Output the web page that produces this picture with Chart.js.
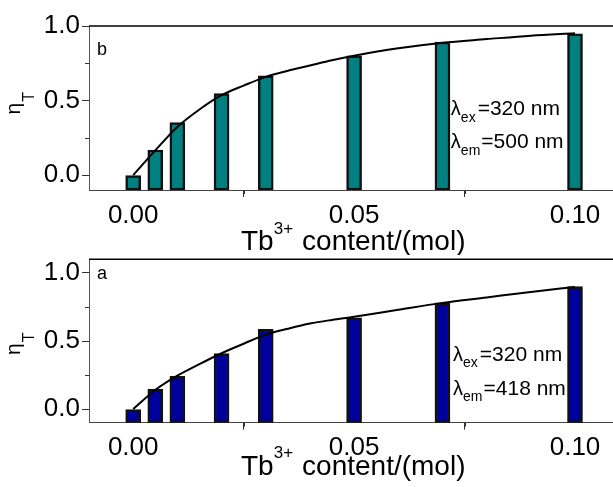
<!DOCTYPE html>
<html>
<head>
<meta charset="utf-8">
<script src="https://cdn.jsdelivr.net/npm/chart.js@4.4.0/dist/chart.umd.min.js"></script>
<style>
  html, body { margin: 0; padding: 0; background: #fff; }
  #wrap { position: relative; width: 613px; height: 487px; }
  canvas { position: absolute; left: 0; }
</style>
</head>
<body>
<div id="wrap">
  <canvas id="chartB" width="613" height="255" style="top:0"></canvas>
  <canvas id="chartA" width="613" height="232" style="top:255px"></canvas>
</div>
<script>
// Contenido de Tb3+ (mol)
const contenido = [0.00, 0.005, 0.01, 0.02, 0.03, 0.05, 0.07, 0.10];
// Panel b (λem = 500 nm)
const etaB = [0.00, 0.168, 0.352, 0.547, 0.666, 0.800, 0.892, 0.948];
// Panel a (λem = 418 nm)
const etaA = [0.00, 0.146, 0.241, 0.407, 0.585, 0.671, 0.781, 0.900];

// Curvas de ajuste
const curvaX = [0.00, 0.005, 0.01, 0.015, 0.02, 0.025, 0.03, 0.035, 0.04, 0.045, 0.05, 0.06, 0.07, 0.08, 0.09, 0.10];
const curvaB = [0.00, 0.166, 0.323, 0.44, 0.536, 0.60, 0.659, 0.70, 0.735, 0.77, 0.80, 0.85, 0.888, 0.912, 0.935, 0.951];
const curvaA = [0.00, 0.14, 0.245, 0.33, 0.41, 0.48, 0.547, 0.59, 0.628, 0.655, 0.678, 0.73, 0.78, 0.82, 0.86, 0.897];

// Ticks
const xTicks = [0.00, 0.05, 0.10];
const xMinor = [0.025, 0.075];
const yTicks = [0.0, 0.5, 1.0];
const yMinor = [0.25, 0.75];

const FUENTE = "'Liberation Sans', Arial, sans-serif";

// Dibuja texto con partes normales / subíndice / superíndice
function textoCompuesto(ctx, partes, x, y) {
    let cx = x;
    partes.forEach(p => {
        ctx.font = p.size + "px " + FUENTE;
        ctx.fillText(p.t, cx, y + (p.dy || 0));
        cx += ctx.measureText(p.t).width + (p.gap || 0);
    });
}

function crearPanel(id, cfg) {
    const ctx = document.getElementById(id).getContext("2d");

    const textos = {
        id: "textos_" + id,
        beforeDatasetsDraw(chart) {
            const c = chart.ctx;
            const xs = chart.scales.x, ys = chart.scales.y;
            c.save();
            c.fillStyle = "#000";
            c.textBaseline = "alphabetic";
            c.textAlign = "left";
            // λ ex / λ em
            const lx = xs.getPixelForValue(cfg.lambdaX);
            textoCompuesto(c, [
                { t: "λ", size: 20 },
                { t: "ex", size: 14, dy: 6.5, gap: 2 },
                { t: "=320 nm", size: 21 }
            ], lx, ys.getPixelForValue(cfg.lambdaY[0]));
            textoCompuesto(c, [
                { t: "λ", size: 20 },
                { t: "em", size: 14, dy: 6.5, gap: 1 },
                { t: "=" + cfg.lambdaEm + " nm", size: 21 }
            ], lx, ys.getPixelForValue(cfg.lambdaY[1]));
            c.restore();
        },
        afterDraw(chart) {
            const c = chart.ctx;
            const a = chart.chartArea;
            const xs = chart.scales.x, ys = chart.scales.y;
            c.save();
            // borde superior
            c.strokeStyle = "#000";
            c.lineWidth = 1.5;
            c.beginPath();
            c.moveTo(a.left, a.top);
            c.lineTo(a.right, a.top);
            c.stroke();
            // ticks menores
            c.strokeStyle = "#333";
            c.lineWidth = 1;
            c.beginPath();
            xMinor.forEach(v => {
                const px = Math.round(xs.getPixelForValue(v)) + 0.5;
                c.moveTo(px, a.bottom);
                c.lineTo(px, a.bottom + 4);
            });
            yMinor.forEach(v => {
                const py = Math.round(ys.getPixelForValue(v)) + 0.5;
                c.moveTo(a.left - 4, py);
                c.lineTo(a.left, py);
            });
            c.stroke();

            c.fillStyle = "#000";
            c.textBaseline = "alphabetic";
            c.textAlign = "left";
            // letra del panel
            c.font = "18px " + FUENTE;
            c.fillText(cfg.letra, a.left + 8, a.top + cfg.letraY);
            // título eje x
            textoCompuesto(c, [
                { t: "Tb", size: 28 },
                { t: "3+", size: 17, dy: -16.5, gap: 9 },
                { t: "content/(mol)", size: 28 }
            ], 241, a.bottom + cfg.tituloY);
            // título eje y (rotado)
            const y0 = ys.getPixelForValue(0.5) + 14;
            c.translate(20, y0);
            c.rotate(-Math.PI / 2);
            c.font = "21px " + FUENTE;
            c.fillText("η", 0, 0);
            const w = c.measureText("η").width;
            c.font = "16px " + FUENTE;
            c.fillText("T", w + 1, 14);
            c.restore();
        }
    };

    return new Chart(ctx, {
        type: "bar",
        data: {
            datasets: [
                {
                    type: "line",
                    data: curvaX.map((x, i) => ({ x: x, y: cfg.curva[i] })),
                    borderColor: "#000",
                    borderWidth: 2,
                    pointRadius: 0,
                    fill: false,
                    cubicInterpolationMode: "monotone",
                    order: 0
                },
                {
                    data: contenido.map((x, i) => ({ x: x, y: [cfg.yMin, cfg.valores[i]] })),
                    backgroundColor: cfg.color,
                    borderColor: "#111",
                    borderWidth: 2.5,
                    borderSkipped: false,
                    barThickness: 15,
                    order: 1
                }
            ]
        },
        options: {
            responsive: false,
            animation: false,
            layout: { padding: { top: cfg.padTop, left: 0, right: 0, bottom: 0 } },
            plugins: { legend: { display: false }, tooltip: { enabled: false } },
            scales: {
                x: {
                    type: "linear",
                    min: -0.01,
                    max: 0.1086,
                    offset: false,
                    afterBuildTicks: s => { s.ticks = xTicks.map(v => ({ value: v })); },
                    afterFit: s => {
                        s.height = cfg.xAltura;
                        s.paddingLeft = 0; s.paddingRight = 0;
                    },
                    ticks: {
                        font: { family: FUENTE, size: 26 },
                        color: "#000",
                        padding: 3,
                        maxRotation: 0,
                        autoSkip: false,
                        callback: v => Number(v).toFixed(2)
                    },
                    grid: { drawOnChartArea: false, tickLength: 7, color: "#333" },
                    border: { color: "#444", width: 1 }
                },
                y: {
                    min: cfg.yMin,
                    max: cfg.yMax,
                    afterBuildTicks: s => { s.ticks = yTicks.map(v => ({ value: v })); },
                    afterFit: s => {
                        s.width = 89;
                        s.paddingTop = 0; s.paddingBottom = 0;
                    },
                    ticks: {
                        font: { family: FUENTE, size: 26 },
                        color: "#000",
                        padding: 2,
                        callback: v => Number(v).toFixed(1)
                    },
                    grid: { drawOnChartArea: false, tickLength: 7, color: "#333" },
                    border: { color: "#555", width: 1 }
                }
            }
        },
        plugins: [textos]
    });
}

crearPanel("chartB", {
    valores: etaB, curva: curvaB, color: "#008080",
    yMin: -0.1, yMax: 1.0, padTop: 26, xAltura: 65,
    letra: "b", letraY: 29, tituloY: 60,
    lambdaEm: "500", lambdaX: 0.0719, lambdaY: [0.403, 0.179]
});

crearPanel("chartA", {
    valores: etaA, curva: curvaA, color: "#00009c",
    yMin: -0.1, yMax: 1.1, padTop: 4.3, xAltura: 64.3,
    letra: "a", letraY: 20, tituloY: 52,
    lambdaEm: "418", lambdaX: 0.0724, lambdaY: [0.356, 0.105]
});
</script>
</body>
</html>
